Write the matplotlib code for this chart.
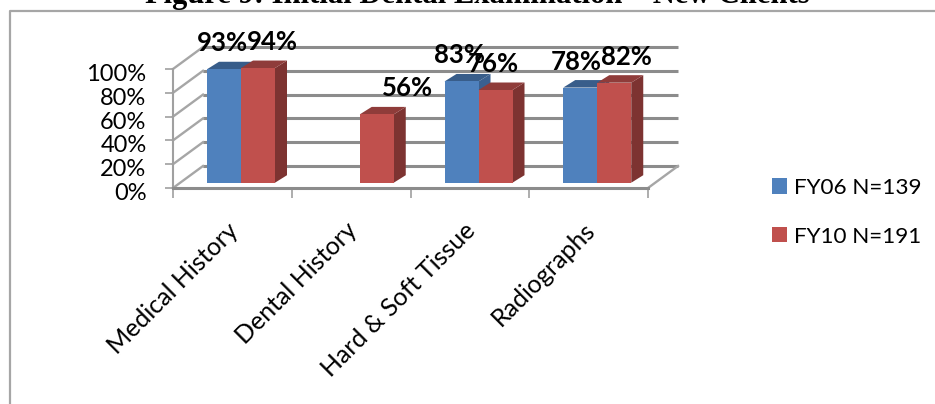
import matplotlib
matplotlib.use("Agg")
import matplotlib.pyplot as plt
from matplotlib.patches import Polygon, Rectangle
from matplotlib.transforms import ScaledTranslation

categories = ["Medical History", "Dental History", "Hard & Soft Tissue", "Radiographs"]
series_names = ["FY06 N=139", "FY10 N=191"]
fy06 = [93, None, 83, 78]
fy10 = [94, 56, 76, 82]
y_ticks = [0, 20, 40, 60, 80, 100]
title = "Figure 9: Initial Dental Examination \u2013 New Clients"

W, H = 935, 404
L, R, B, T = 173, 648, 188, 69
fig = plt.figure(figsize=(W / 100, H / 100), dpi=100)
bg = fig.add_axes([0, 0, 1, 1]); bg.set_xlim(0, W); bg.set_ylim(H, 0); bg.axis("off")
ax = fig.add_axes([L / W, 1 - B / H, (R - L) / W, (B - T) / H])
ax.set_xlim(0, 4); ax.set_ylim(0, 100)
ax.patch.set_alpha(0)
for s in ax.spines.values():
    s.set_visible(False)
ax.spines["bottom"].set_visible(True); ax.spines["bottom"].set_color("#8c8c8c"); ax.spines["bottom"].set_linewidth(2.2)
ax.spines["left"].set_visible(True); ax.spines["left"].set_color("#a0a0a0"); ax.spines["left"].set_linewidth(1.5)

FONT = "Lato"
GRID = "#8c8c8c"
px = 4 / (R - L); py = 100 / (B - T)
dX, dY = 30 * px, 22 * py

# chart frame and title (the title is clipped by the top edge, as in the source)
bg.plot([9.5, 9.5, W], [H, 10.5, 10.5], color="#a6a6a6", lw=1.6, clip_on=False)
bg.text(477.5, 3, title, family="Liberation Serif", weight="bold", fontsize=22, ha="center", va="baseline", color="black")

# back wall, side wall and floor lines
for v in y_ticks:
    ax.plot([dX, 4 + dX], [v + dY - 1.1 * py, v + dY - 1.1 * py], color="#d4d4d4", lw=1.4, clip_on=False, zorder=0.9, solid_capstyle="butt")
    ax.plot([dX, 4 + dX], [v + dY, v + dY], color=GRID, lw=2.2, clip_on=False, zorder=1, solid_capstyle="butt")
    ax.plot([0, dX], [v, v + dY], color="#a6a6a6", lw=1.7, clip_on=False, zorder=1)
ax.plot([4, 4 + dX], [0, dY], color="#a6a6a6", lw=1.7, clip_on=False, zorder=1)

# 3D bars
colors = [("#4f81bd", "#3a6090", "#385d8a"), ("#c0504d", "#7d3331", "#8f3c3a")]
bw = 34 * px
start = (207 - L) * px
bar_off = (188 - 182.7) * py
bar_scale = 1.025
sx, sy = 12 * px, 7.5 * py
# label nudges in pixels relative to the bar centre (hand-placed in the source)
label_dx = {(0, 0): -2, (1, 0): 14, (1, 1): 31, (0, 2): -2, (1, 2): -2, (0, 3): -4, (1, 3): 12}
for k, vals in enumerate([fy06, fy10]):
    for i, v in enumerate(vals):
        if v is None:
            continue
        x0 = start + i + k * bw
        x1 = x0 + bw
        y0 = bar_off
        y1 = bar_off + v * bar_scale
        z = 3 + i * 3 + k
        ax.add_patch(Polygon([(x1, y0), (x1 + sx, y0 + sy), (x1 + sx, y1 + sy), (x1, y1)],
                             closed=True, fc=colors[k][1], ec="none", clip_on=False, zorder=z))
        ax.add_patch(Polygon([(x0, y1), (x1, y1), (x1 + sx, y1 + sy), (x0 + sx, y1 + sy)],
                             closed=True, fc=colors[k][2], ec="none", clip_on=False, zorder=z))
        ax.add_patch(Rectangle((x0, y0), bw, y1 - y0, fc=colors[k][0], ec="none", clip_on=False, zorder=z + 0.5))
        ax.text((x0 + x1) / 2 + label_dx[(k, i)] * px, y1 + 26 * py, f"{v}%", family=FONT, weight="bold", fontsize=18.5,
                ha="center", va="center", color="black", clip_on=False, zorder=30)

# axes ticks and labels
ax.set_yticks(y_ticks); ax.set_yticklabels([f"{v}%" for v in y_ticks], family=FONT, fontsize=17)
ax.tick_params(axis="y", length=6, color="#a0a0a0", width=1.2, pad=13)
for t in ax.get_yticklabels():
    t.set_transform(t.get_transform() + ScaledTranslation(0, -3.5 / 100, fig.dpi_scale_trans))
ax.set_xticks(range(5)); ax.set_xticklabels([""] * 5)
ax.tick_params(axis="x", which="major", length=7, color="#a0a0a0", width=1.2)
ax.set_xticks([i + 0.5 for i in range(4)], minor=True)
ax.set_xticklabels(categories, minor=True, family=FONT, fontsize=18, rotation=45, ha="right", rotation_mode="anchor")
ax.tick_params(axis="x", which="minor", length=0, pad=22)
for t in ax.get_xticklabels(minor=True):
    t.set_transform(t.get_transform() + ScaledTranslation(-6 / 100, 0, fig.dpi_scale_trans))

# legend
handles = [Rectangle((0, 0), 1, 1, fc=colors[i][0]) for i in range(2)]
fig.legend(handles, series_names, loc="upper left", bbox_to_anchor=(772 / W, 1 - 178 / H), frameon=False,
           prop={"family": FONT, "size": 16.2}, handlelength=0.67, handleheight=0.67, handletextpad=0.31,
           labelspacing=1.27, borderpad=0, borderaxespad=0)

fig.savefig("out.png", dpi=100)
